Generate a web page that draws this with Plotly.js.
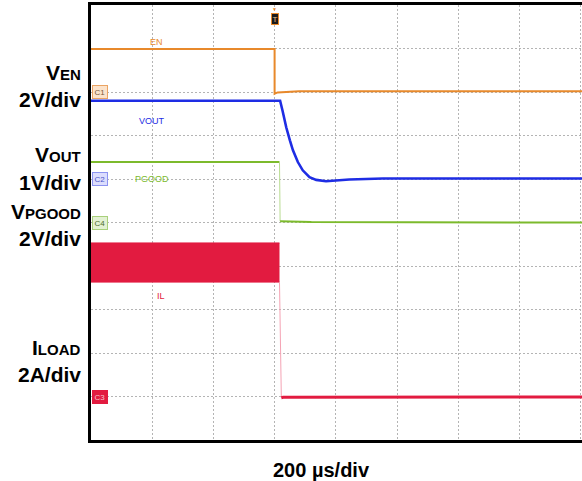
<!DOCTYPE html>
<html>
<head>
<meta charset="utf-8">
<script src="https://cdn.plot.ly/plotly-3.0.1.min.js"></script>
<style>
html,body{margin:0;padding:0;background:#fff;overflow:hidden;}
#chart{width:582px;height:481px;}
</style>
</head>
<body>
<div id="chart"></div>
<script>
// time in divisions (200 us/div), amplitude in screen divisions
const enT   = [0, 3.0, 3.0, 3.05, 3.4, 8.03];
const enV   = [8.99, 8.99, 7.96, 7.99, 8.02, 8.02];

const voutT = [0, 3.09, 3.13, 3.19, 3.25, 3.30, 3.38, 3.46, 3.57, 3.68, 3.84, 4.22, 4.77, 8.03];
const voutV = [7.80, 7.80, 7.57, 7.19, 6.89, 6.66, 6.39, 6.20, 6.04, 5.98, 5.95, 5.99, 6.01, 6.01];

const pgoodT = [0, 3.08, 3.09, 3.6, 8.03];
const pgoodV = [6.39, 6.39, 5.03, 5.01, 5.00];

const ilBandT  = [0, 3.08];
const ilBandHi = [4.53, 4.53];
const ilBandLo = [3.63, 3.63];
const ilT = [3.08, 3.11, 3.14, 8.03];
const ilV = [3.63, 0.97, 0.98, 0.99];

const traceLabels = ["EN", "VOUT", "PGOOD", "IL"];
const channelTags = ["C1", "C2", "C4", "C3"];
const channelLevels = [8, 6, 5, 1];

const cOrange = '#E8892B', cBlue = '#1E2DE4', cGreen = '#7CBA2C', cRed = '#E21B40';

const traces = [
  {x: enT, y: enV, mode: 'lines', line: {color: cOrange, width: 2}, hoverinfo: 'skip'},
  {x: voutT, y: voutV, mode: 'lines', line: {color: cBlue, width: 2.6}, hoverinfo: 'skip'},
  {x: pgoodT.slice(0, 2), y: pgoodV.slice(0, 2), mode: 'lines', line: {color: cGreen, width: 2}, hoverinfo: 'skip'},
  {x: pgoodT.slice(1, 3), y: pgoodV.slice(1, 3), mode: 'lines', line: {color: '#b9dc92', width: 1}, hoverinfo: 'skip'},
  {x: pgoodT.slice(2), y: pgoodV.slice(2), mode: 'lines', line: {color: cGreen, width: 2}, hoverinfo: 'skip'},
  {x: ilBandT, y: ilBandLo, mode: 'lines', line: {color: cRed, width: 1}, hoverinfo: 'skip'},
  {x: ilBandT, y: ilBandHi, mode: 'lines', line: {color: cRed, width: 1}, fill: 'tonexty', fillcolor: cRed, hoverinfo: 'skip'},
  {x: ilT.slice(0, 2), y: ilV.slice(0, 2), mode: 'lines', line: {color: '#f5a3b4', width: 1}, hoverinfo: 'skip'},
  {x: ilT.slice(1), y: ilV.slice(1), mode: 'lines', line: {color: cRed, width: 3}, hoverinfo: 'skip'}
];

// plot area geometry in page pixels (for placing outside labels)
const PL = 91, PW = 491, PT = 5, PH = 435;
const px2x = p => (p - PL) / PW;
const py2y = p => (PT + PH - p) / PH;

const labelFont = 'Liberation Sans Narrow, Arial Narrow, Liberation Sans, sans-serif';
const traceColors = [cOrange, cBlue, cGreen, cRed];
const labelPos = [[1.07, 9.16], [1.0, 7.34], [1.0, 6.0], [1.15, 3.32]];
const annotations = [];
traceLabels.forEach((t, i) => {
  annotations.push({x: labelPos[i][0], y: labelPos[i][1], xref: 'x', yref: 'y', text: t, showarrow: false,
    font: {family: labelFont, size: 9, color: traceColors[i]}});
});
const tagFill = ['#FCE3CB', '#DCDDFD', '#E3F1D3', cRed];
const tagLine = ['#EBA463', '#8C93F0', '#A9D07C', cRed];
const tagText = ['#7a5a3a', '#4a55c8', '#4e6d2d', '#f7c0cb'];
channelTags.forEach((t, i) => {
  annotations.push({x: 0, y: channelLevels[i], xref: 'paper', yref: 'y', xanchor: 'left', xshift: 1,
    text: t, showarrow: false, bgcolor: tagFill[i], bordercolor: tagLine[i], borderwidth: 1, borderpad: 1.5,
    font: {family: labelFont, size: 8, color: tagText[i]}});
});
// trigger marker
annotations.push({x: 3.0, y: 1, xref: 'x', yref: 'paper', yanchor: 'top', yshift: 1, text: '▼', showarrow: false,
  font: {size: 5, color: cOrange}});
annotations.push({x: 3.0, y: 1, xref: 'x', yref: 'paper', yanchor: 'top', yshift: -8, text: 'T', showarrow: false,
  bgcolor: '#1a1a1a', bordercolor: cOrange, borderwidth: 1, borderpad: 0.5,
  font: {family: 'Liberation Sans', size: 8, color: '#e8c28a'}});

// left side channel scale labels
const boldFont = 'Liberation Sans, Arial, sans-serif';
const sideLabels = [
  ['V<span style="font-size:15px">EN</span>', 72],
  ['2V/div', 100],
  ['V<span style="font-size:15px">OUT</span>', 154.5],
  ['1V/div', 182],
  ['V<span style="font-size:15px">PGOOD</span>', 211.5],
  ['2V/div', 239],
  ['I<span style="font-size:15px">LOAD</span>', 347.5],
  ['2A/div', 374]
];
sideLabels.forEach(s => {
  annotations.push({x: px2x(83), y: py2y(s[1]), xref: 'paper', yref: 'paper', xanchor: 'right', yanchor: 'middle',
    text: '<b>' + s[0] + '</b>', showarrow: false, font: {family: boldFont, size: 21, color: '#000'}});
});
// time base label
annotations.push({x: px2x(321), y: py2y(470), xref: 'paper', yref: 'paper', xanchor: 'center', yanchor: 'middle',
  text: '<b>200 µs/div</b>', showarrow: false, font: {family: boldFont, size: 20, color: '#000'}});

const gridStyle = {showgrid: true, gridcolor: '#b4b4b4', gridwidth: 1, griddash: '2px,2px'};

const layout = {
  width: 582, height: 481,
  margin: {l: PL, r: 0, t: PT, b: 481 - PT - PH, pad: 0},
  paper_bgcolor: '#fff', plot_bgcolor: '#fff',
  showlegend: false,
  xaxis: Object.assign({range: [0, 8.023], dtick: 1, tick0: 0, showticklabels: false, ticks: '', zeroline: false,
    showline: true, linecolor: '#000', linewidth: 3, mirror: true}, gridStyle),
  yaxis: Object.assign({range: [0, 10], dtick: 1, tick0: 0, showticklabels: false, ticks: '', zeroline: false,
    showline: true, linecolor: '#000', linewidth: 3, mirror: false}, gridStyle),
  annotations: annotations
};

Plotly.newPlot('chart', traces, layout, {displayModeBar: false, staticPlot: true});
</script>
</body>
</html>
